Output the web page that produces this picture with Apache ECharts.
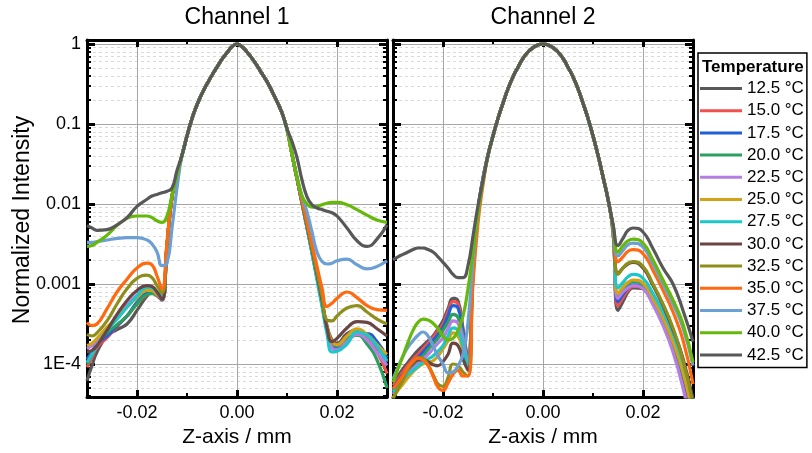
<!DOCTYPE html>
<html><head><meta charset="utf-8">
<script src="https://cdn.jsdelivr.net/npm/echarts@6/dist/echarts.min.js"></script>
<style>html,body{margin:0;padding:0;background:#fff}#c{width:812px;height:453px}</style>
</head><body><div id="c"></div>
<script>
// ---------- data (y values are log10 of normalized intensity) ----------
const temperatures = ['12.5 °C','15.0 °C','17.5 °C','20.0 °C','22.5 °C','25.0 °C','27.5 °C','30.0 °C','32.5 °C','35.0 °C','37.5 °C','40.0 °C','42.5 °C'];
const lineColors = ['#585858','#f24f4f','#1f5fd8','#2ba05f','#b47ee2','#d4a216','#1dc6c8','#6b4444','#8e8e1c','#ff6a10','#6c9fd4','#66b80c','#585858'];

const xTickValues = [-0.02, 0, 0.02];
const xTickLabels = ['-0.02', '0.00', '0.02'];
const xMinorTickValues = [-0.01, 0.01];
const yTickExponents = [-4, -3, -2, -1, 0];
const yTickLabels = ['1E-4', '0.001', '0.01', '0.1', '1'];

// Channel 1
const ch1LeftX = [-0.030,-0.029,-0.028,-0.026,-0.024,-0.022,-0.020,-0.018,-0.017,-0.016,-0.015,-0.014,-0.013,-0.012];
const ch1CenterX = [-0.011,-0.010,-0.009,-0.008,-0.007,-0.006,-0.005,-0.004,-0.003,-0.002,-0.001,0,0.001,0.002,0.003,0.004,0.005,0.006,0.007,0.008,0.009,0.010];
const ch1RightX = [0.011,0.012,0.013,0.014,0.015,0.016,0.017,0.018,0.019,0.020,0.022,0.024,0.026,0.028,0.030];
const ch1CenterLog = [-1.39,-1.15,-0.93,-0.76,-0.62,-0.50,-0.39,-0.29,-0.19,-0.11,-0.035,0,-0.035,-0.10,-0.18,-0.27,-0.37,-0.47,-0.59,-0.72,-0.86,-1.06];
const ch1LeftLog = [
  [-4.21,-4.02,-3.85,-3.65,-3.57,-3.50,-3.33,-3.15,-3.10,-3.11,-3.17,-2.53,-1.91,-1.64],
  [-4.04,-3.92,-3.79,-3.67,-3.53,-3.40,-3.25,-3.13,-3.11,-3.15,-3.20,-2.53,-1.91,-1.64],
  [-3.94,-3.85,-3.75,-3.65,-3.52,-3.40,-3.23,-3.11,-3.10,-3.14,-3.20,-2.53,-1.91,-1.64],
  [-4.00,-3.88,-3.75,-3.61,-3.51,-3.40,-3.25,-3.13,-3.12,-3.14,-3.19,-2.53,-1.91,-1.64],
  [-3.81,-3.77,-3.71,-3.56,-3.42,-3.27,-3.14,-3.06,-3.08,-3.13,-3.18,-2.52,-1.91,-1.64],
  [-3.77,-3.74,-3.68,-3.54,-3.42,-3.29,-3.17,-3.08,-3.08,-3.13,-3.19,-2.52,-1.91,-1.64],
  [-3.98,-3.88,-3.77,-3.58,-3.44,-3.29,-3.15,-3.04,-3.05,-3.10,-3.17,-2.52,-1.91,-1.64],
  [-3.85,-3.83,-3.77,-3.58,-3.38,-3.21,-3.08,-3.02,-3.03,-3.10,-3.19,-2.52,-1.91,-1.64],
  [-3.63,-3.65,-3.61,-3.46,-3.25,-3.06,-2.93,-2.89,-2.92,-3.02,-3.11,-2.50,-1.90,-1.64],
  [-3.48,-3.52,-3.50,-3.31,-3.10,-2.94,-2.80,-2.74,-2.76,-2.90,-3.06,-2.48,-1.90,-1.64],
  [-2.48,-2.48,-2.47,-2.45,-2.43,-2.42,-2.42,-2.45,-2.50,-2.60,-2.77,-2.74,-2.30,-1.80],
  [-2.53,-2.52,-2.48,-2.39,-2.27,-2.18,-2.15,-2.15,-2.17,-2.21,-2.23,-2.15,-1.89,-1.64],
  [-2.27,-2.30,-2.33,-2.32,-2.26,-2.17,-2.03,-1.94,-1.90,-1.88,-1.86,-1.84,-1.80,-1.58]
];
const ch1RightLog = [
  [-1.38,-1.68,-1.98,-2.28,-2.59,-2.90,-3.22,-3.52,-3.70,-3.74,-3.62,-3.58,-3.64,-3.78,-3.98],
  [-1.38,-1.68,-1.99,-2.29,-2.60,-2.92,-3.24,-3.56,-3.76,-3.80,-3.70,-3.64,-3.68,-3.85,-4.12],
  [-1.38,-1.68,-1.99,-2.29,-2.60,-2.92,-3.25,-3.58,-3.79,-3.80,-3.70,-3.62,-3.62,-3.72,-3.92],
  [-1.38,-1.68,-1.99,-2.29,-2.60,-2.91,-3.23,-3.55,-3.74,-3.77,-3.68,-3.64,-3.75,-3.95,-4.30],
  [-1.38,-1.68,-1.99,-2.29,-2.60,-2.92,-3.25,-3.58,-3.80,-3.82,-3.72,-3.63,-3.70,-3.86,-4.02],
  [-1.38,-1.68,-1.98,-2.28,-2.59,-2.90,-3.22,-3.53,-3.72,-3.76,-3.65,-3.56,-3.63,-3.76,-3.88],
  [-1.38,-1.68,-1.99,-2.30,-2.62,-2.95,-3.28,-3.62,-3.85,-3.84,-3.75,-3.60,-3.64,-3.78,-3.96],
  [-1.38,-1.68,-1.98,-2.27,-2.57,-2.88,-3.20,-3.55,-3.72,-3.68,-3.55,-3.47,-3.48,-3.56,-3.65],
  [-1.38,-1.68,-1.97,-2.25,-2.55,-2.85,-3.15,-3.45,-3.46,-3.40,-3.30,-3.27,-3.35,-3.44,-3.50],
  [-1.38,-1.68,-1.95,-2.22,-2.50,-2.78,-3.05,-3.28,-3.24,-3.18,-3.10,-3.17,-3.27,-3.32,-3.33],
  [-1.38,-1.66,-1.90,-2.10,-2.35,-2.60,-2.72,-2.75,-2.74,-2.71,-2.69,-2.76,-2.81,-2.78,-2.71],
  [-1.38,-1.66,-1.90,-2.00,-2.04,-2.03,-2.01,-1.99,-1.98,-1.98,-2.01,-2.07,-2.14,-2.20,-2.23],
  [-1.22,-1.42,-1.70,-1.91,-2.01,-2.05,-2.07,-2.09,-2.11,-2.15,-2.30,-2.46,-2.53,-2.44,-2.26]
];

// Channel 2
const ch2LeftX = [-0.030,-0.029,-0.028,-0.027,-0.026,-0.025,-0.024,-0.023,-0.022,-0.021,-0.020,-0.019,-0.018,-0.017,-0.016,-0.015,-0.014,-0.013,-0.012];
const ch2CenterX = [-0.011,-0.010,-0.009,-0.008,-0.007,-0.006,-0.005,-0.004,-0.003,-0.002,-0.001,0,0.001,0.002,0.003,0.004,0.005,0.006,0.007,0.008,0.009,0.010];
const ch2RightX = [0.011,0.012,0.013,0.014,0.015,0.016,0.017,0.018,0.020,0.022,0.024,0.026,0.028,0.030];
const ch2CenterLog = [-1.39,-1.15,-0.93,-0.74,-0.56,-0.41,-0.29,-0.18,-0.10,-0.046,-0.012,0,-0.012,-0.046,-0.10,-0.18,-0.29,-0.41,-0.56,-0.74,-0.93,-1.15];
const ch2LeftLog = [
  [-4.23,-4.15,-4.06,-3.98,-3.90,-3.83,-3.77,-3.71,-3.65,-3.56,-3.46,-3.31,-3.18,-3.21,-3.56,-3.95,-2.80,-2.08,-1.68],
  [-4.27,-4.19,-4.10,-4.02,-3.94,-3.88,-3.81,-3.74,-3.67,-3.59,-3.50,-3.35,-3.22,-3.25,-3.58,-3.96,-2.80,-2.08,-1.68],
  [-4.31,-4.22,-4.13,-4.05,-3.98,-3.92,-3.85,-3.78,-3.71,-3.63,-3.54,-3.40,-3.27,-3.30,-3.60,-3.98,-2.81,-2.09,-1.68],
  [-4.33,-4.25,-4.17,-4.09,-4.02,-3.96,-3.90,-3.82,-3.75,-3.68,-3.58,-3.48,-3.38,-3.42,-3.65,-4.00,-2.82,-2.09,-1.68],
  [-4.38,-4.29,-4.21,-4.13,-4.06,-4.00,-3.94,-3.88,-3.81,-3.74,-3.67,-3.56,-3.46,-3.49,-3.69,-4.02,-2.83,-2.10,-1.69],
  [-4.42,-4.33,-4.25,-4.17,-4.10,-4.04,-4.00,-3.98,-3.96,-3.90,-3.81,-3.71,-3.61,-3.65,-3.83,-4.06,-2.85,-2.11,-1.69],
  [-4.35,-4.27,-4.19,-4.13,-4.08,-4.03,-3.98,-3.94,-3.90,-3.84,-3.77,-3.65,-3.55,-3.58,-3.77,-4.04,-2.85,-2.11,-1.69],
  [-4.31,-4.23,-4.14,-4.06,-3.99,-3.95,-3.95,-3.97,-4.01,-4.02,-3.97,-3.88,-3.74,-3.77,-3.94,-4.08,-2.87,-2.12,-1.70],
  [-4.44,-4.31,-4.20,-4.06,-3.97,-3.92,-3.93,-4.01,-4.13,-4.25,-4.28,-4.17,-4.00,-4.02,-4.10,-4.15,-2.90,-2.15,-1.71],
  [-4.31,-4.23,-4.14,-4.04,-3.97,-3.93,-3.95,-4.02,-4.15,-4.29,-4.33,-4.24,-4.13,-4.08,-4.15,-4.15,-3.00,-2.24,-1.76],
  [-4.19,-4.04,-3.90,-3.79,-3.71,-3.64,-3.60,-3.65,-3.77,-3.90,-4.00,-4.11,-4.10,-4.02,-3.88,-3.48,-2.72,-2.11,-1.69],
  [-4.23,-4.06,-3.90,-3.73,-3.58,-3.48,-3.44,-3.45,-3.49,-3.56,-3.65,-3.70,-3.68,-3.58,-3.40,-3.06,-2.60,-2.12,-1.72],
  [-2.70,-2.66,-2.63,-2.60,-2.57,-2.55,-2.55,-2.57,-2.60,-2.66,-2.73,-2.80,-2.88,-2.92,-2.92,-2.77,-2.40,-2.02,-1.70]
];
const ch2RightLog = [
  [-1.39,-1.66,-1.94,-2.35,-3.33,-3.22,-3.10,-3.05,-3.06,-3.24,-3.48,-3.78,-4.16,-4.65],
  [-1.39,-1.66,-1.94,-2.34,-3.27,-3.17,-3.08,-3.03,-3.05,-3.23,-3.47,-3.78,-4.18,-4.70],
  [-1.39,-1.66,-1.94,-2.34,-3.22,-3.13,-3.05,-3.01,-3.04,-3.22,-3.46,-3.76,-4.15,-4.65],
  [-1.39,-1.66,-1.94,-2.33,-3.15,-3.07,-3.00,-2.97,-3.01,-3.20,-3.44,-3.74,-4.12,-4.60],
  [-1.39,-1.66,-1.94,-2.33,-3.18,-3.10,-3.05,-3.02,-3.06,-3.26,-3.52,-3.85,-4.30,-4.90],
  [-1.39,-1.66,-1.94,-2.33,-3.12,-3.04,-2.98,-2.95,-2.99,-3.18,-3.42,-3.72,-4.10,-4.65],
  [-1.39,-1.66,-1.94,-2.32,-3.05,-2.98,-2.91,-2.88,-2.93,-3.12,-3.35,-3.62,-3.98,-4.45],
  [-1.39,-1.66,-1.94,-2.30,-2.87,-2.80,-2.75,-2.73,-2.80,-3.02,-3.27,-3.57,-3.93,-4.45],
  [-1.39,-1.66,-1.94,-2.30,-2.88,-2.80,-2.74,-2.72,-2.78,-3.00,-3.25,-3.55,-3.95,-4.50],
  [-1.39,-1.66,-1.94,-2.28,-2.72,-2.66,-2.59,-2.57,-2.62,-2.83,-3.08,-3.35,-3.70,-4.25],
  [-1.39,-1.66,-1.94,-2.27,-2.65,-2.58,-2.51,-2.49,-2.54,-2.75,-3.00,-3.25,-3.55,-4.02],
  [-1.39,-1.66,-1.94,-2.26,-2.60,-2.52,-2.46,-2.44,-2.49,-2.70,-2.95,-3.20,-3.50,-3.98],
  [-1.39,-1.66,-1.94,-2.25,-2.52,-2.43,-2.33,-2.30,-2.35,-2.56,-2.80,-3.00,-3.33,-3.72]
];

// ---------- chart ----------
const FONT = 'Liberation Sans, Arial, sans-serif';
const yMin = -4.4125, yMax = 0.05;
const yMinorTickValues = [];
for (let d = -5; d <= 0; d++) for (let k = 2; k <= 9; k++) {
  const v = d + Math.log10(k);
  if (v > yMin && v < yMax) yMinorTickValues.push(v);
}
const grids = [
  {left: 87, top: 40, width: 300, height: 357},
  {left: 393, top: 40, width: 300, height: 357}
];
const frameLine = {show: true, onZero: false, lineStyle: {color: '#000', width: 3}};
const xAxes = [], yAxes = [];
grids.forEach((g, gi) => {
  const base = {type: 'value', gridIndex: gi, min: -0.03, max: 0.03, axisLine: frameLine};
  xAxes.push(Object.assign({}, base, {position: 'bottom',
    axisTick: {show: true, inside: true, length: 7, customValues: xTickValues, lineStyle: {color: '#000', width: 3}},
    axisLabel: {show: true, customValues: xTickValues, margin: 7, color: '#000', fontSize: 18, fontFamily: FONT,
      formatter: v => xTickLabels[xTickValues.findIndex(t => Math.abs(t - v) < 1e-9)]},
    splitLine: {show: true, lineStyle: {color: '#a6a6a6', width: 1}}}));
  xAxes.push(Object.assign({}, base, {position: 'top',
    axisTick: {show: true, inside: true, length: 7, customValues: xTickValues, lineStyle: {color: '#000', width: 3}},
    axisLabel: {show: false}, splitLine: {show: false}}));
  xAxes.push(Object.assign({}, base, {position: 'bottom', axisLine: {show: false, onZero: false},
    axisTick: {show: true, inside: true, length: 4, customValues: xMinorTickValues, lineStyle: {color: '#000', width: 2}},
    axisLabel: {show: false}, splitLine: {show: false}}));
  xAxes.push(Object.assign({}, base, {position: 'top', axisLine: {show: false, onZero: false},
    axisTick: {show: true, inside: true, length: 4, customValues: xMinorTickValues, lineStyle: {color: '#000', width: 2}},
    axisLabel: {show: false}, splitLine: {show: false}}));

  const ybase = {type: 'value', gridIndex: gi, min: yMin, max: yMax, axisLine: frameLine};
  yAxes.push(Object.assign({}, ybase, {position: 'left',
    axisTick: {show: true, inside: true, length: 8, customValues: yTickExponents, lineStyle: {color: '#000', width: 3}},
    axisLabel: {show: gi === 0, customValues: yTickExponents, margin: 6, color: '#000', fontSize: 18, fontFamily: FONT,
      formatter: v => yTickLabels[yTickExponents.indexOf(Math.round(v))]},
    splitLine: {show: true, lineStyle: {color: '#a6a6a6', width: 1}}}));
  yAxes.push(Object.assign({}, ybase, {position: 'right',
    axisTick: {show: true, inside: true, length: 8, customValues: yTickExponents, lineStyle: {color: '#000', width: 3}},
    axisLabel: {show: false}, splitLine: {show: false}}));
  yAxes.push(Object.assign({}, ybase, {position: 'left', axisLine: {show: false, onZero: false},
    axisTick: {show: true, inside: true, length: 4, customValues: yMinorTickValues, lineStyle: {color: '#000', width: 2}},
    axisLabel: {show: false},
    splitLine: {show: true, lineStyle: {color: '#d9d9d9', width: 1, type: [3, 3]}}}));
  yAxes.push(Object.assign({}, ybase, {position: 'right', axisLine: {show: false, onZero: false},
    axisTick: {show: true, inside: true, length: 4, customValues: yMinorTickValues, lineStyle: {color: '#000', width: 2}},
    axisLabel: {show: false}, splitLine: {show: false}}));
});

const channels = [
  {leftX: ch1LeftX, centerX: ch1CenterX, rightX: ch1RightX, leftLog: ch1LeftLog, centerLog: ch1CenterLog, rightLog: ch1RightLog},
  {leftX: ch2LeftX, centerX: ch2CenterX, rightX: ch2RightX, leftLog: ch2LeftLog, centerLog: ch2CenterLog, rightLog: ch2RightLog}
];
const series = [];
channels.forEach((ch, gi) => {
  temperatures.forEach((name, i) => {
    const xs = ch.leftX.concat(ch.centerX, ch.rightX);
    const ys = ch.leftLog[i].concat(ch.centerLog, ch.rightLog[i]);
    series.push({
      name: name, type: 'line', xAxisIndex: gi * 4, yAxisIndex: gi * 4,
      data: xs.map((x, j) => [x, ys[j]]),
      smooth: 0.5, showSymbol: false, symbol: 'none', clip: true,
      lineStyle: {color: lineColors[i], width: 3.2}, itemStyle: {color: lineColors[i]},
      z: 3 + i
    });
  });
});

const chart = echarts.init(document.getElementById('c'), null, {renderer: 'canvas'});
chart.setOption({
  animation: false,
  backgroundColor: '#fff',
  grid: grids,
  xAxis: xAxes,
  yAxis: yAxes,
  series: series,
  legend: {
    data: temperatures, orient: 'vertical', left: 698, top: 53,
    padding: [27, 3, 4, 2], itemGap: 5.2, itemWidth: 42, itemHeight: 3, icon: 'rect',
    borderColor: '#000', borderWidth: 1.5, selectedMode: false,
    textStyle: {fontSize: 17, color: '#000', fontFamily: FONT, padding: [0, 0, 0, 0]}
  },
  graphic: [
    {type: 'text', x: 237, y: 18, style: {text: 'Channel 1', font: '23px ' + FONT, fill: '#000', textAlign: 'center', textVerticalAlign: 'middle'}},
    {type: 'text', x: 543, y: 18, style: {text: 'Channel 2', font: '23px ' + FONT, fill: '#000', textAlign: 'center', textVerticalAlign: 'middle'}},
    {type: 'text', x: 237, y: 437, style: {text: 'Z-axis / mm', font: '21px ' + FONT, fill: '#000', textAlign: 'center', textVerticalAlign: 'middle'}},
    {type: 'text', x: 543, y: 437, style: {text: 'Z-axis / mm', font: '21px ' + FONT, fill: '#000', textAlign: 'center', textVerticalAlign: 'middle'}},
    {type: 'text', x: 23, y: 220, rotation: Math.PI / 2, style: {text: 'Normalized Intensity', font: '23px ' + FONT, fill: '#000', textAlign: 'center', textVerticalAlign: 'middle'}},
    {type: 'text', x: 702, y: 67, style: {text: 'Temperature', font: 'bold 17px ' + FONT, fill: '#000', textAlign: 'left', textVerticalAlign: 'middle'}}
  ]
});
</script></body></html>
